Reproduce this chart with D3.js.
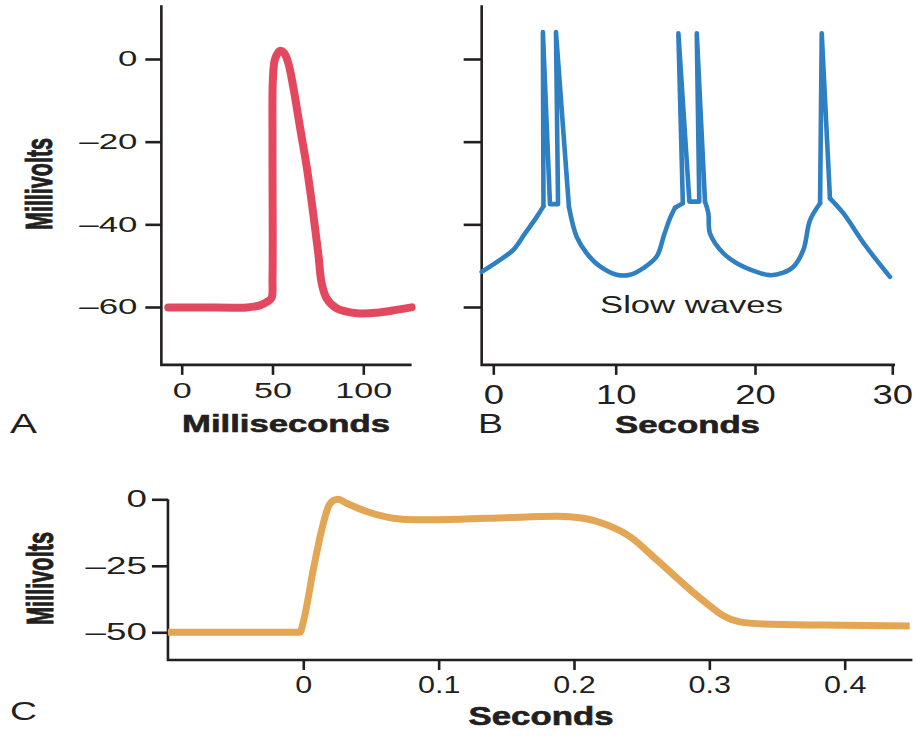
<!DOCTYPE html>
<html>
<head>
<meta charset="utf-8">
<script src="https://cdn.jsdelivr.net/npm/d3@7"></script>
<style>
  body { margin: 0; background: #fff; }
  svg { display: block; }
  text { font-family: "Liberation Sans", Arial, sans-serif; fill: #231f20; }
</style>
</head>
<body>
<div id="chart"></div>
<script>
// ---- panel A: nerve action potential (ms, mV)
const msTicks = [0, 50, 100];
const mvTicksA = [0, -20, -40, -60];
const redMs = [-7.4, 10, 35.8, 43.1, 47.5, 49.5, 50, 50, 50.2, 51.4, 54.1, 56.3, 58.7, 61.4, 65.1, 68.8, 72.4, 75.2, 77.1, 79.8, 85.3, 96.3, 107.3, 118.3, 126.6];
const redMv = [-60.1, -60.1, -60.1, -59.6, -58.6, -57.8, -53, -20, -5, 0, 2.0, 1.5, -1.0, -6.7, -16.4, -26.0, -37.3, -47.0, -54.3, -57.9, -60.3, -61.5, -61.4, -60.7, -60.1];

// ---- panel B: smooth muscle slow waves with spikes (s, mV)
const secTicksB = [0, 10, 20, 30];
const blueSec = [-0.95, 0.55, 1.63, 2.59, 3.55, 4.1, 4.05, 4.63, 5.29, 5.12, 6.18, 6.81, 7.63, 8.72, 10.07, 11.03, 11.98, 12.94, 13.47, 13.9, 14.26, 14.82, 14.5, 15.29, 16.0, 15.82, 16.41, 16.65, 16.77, 17.73, 18.69, 20.12, 21.09, 22.06, 22.79, 23.52, 24.01, 24.74, 24.86, 25.46, 26.43, 28.01, 29.83];
const blueMv = [-51.5, -48.6, -46.2, -42.2, -38.2, -35.6, 6.5, -35.1, -35.1, 6.5, -35.8, -43.0, -47.0, -50.2, -52.2, -52.2, -50.6, -47.8, -42.6, -38.5, -36.0, -34.9, 6.2, -34.5, -34.5, 6.2, -34.5, -37.3, -42.2, -47.0, -49.4, -51.5, -52.3, -51.7, -50.3, -46.2, -39.0, -34.9, 6.2, -33.7, -37.3, -45.0, -52.7];

// ---- panel C: plateau action potential (s, mV)
const secTicksC = [0, 0.1, 0.2, 0.3, 0.4];
const mvTicksC = [0, -25, -50];
const orangeSec = [-0.1, -0.0025, 0.0005, 0.0074, 0.0136, 0.0185, 0.0221, 0.0258, 0.032, 0.0468, 0.0664, 0.0837, 0.1157, 0.1503, 0.1872, 0.2069, 0.2241, 0.2413, 0.261, 0.2856, 0.3004, 0.3103, 0.3225, 0.3398, 0.3841, 0.448];
const orangeMv = [-50, -50, -45, -26.4, -11.5, -2.8, -0.5, 0, -1.5, -4.6, -7.1, -7.7, -7.5, -6.9, -6.4, -7.1, -9.6, -14.0, -22.7, -33.9, -40.1, -43.8, -46.1, -46.9, -47.3, -47.6];

const width = 917, height = 736;
const ink = '#231f20';

const svg = d3.select('#chart')
    .append('svg')
    .attr('width', width)
    .attr('height', height);

// squeeze / stretch text horizontally around its anchor
function stretch(sel, s) {
    sel.each(function () {
        const t = d3.select(this);
        const x = +t.attr('x') || 0;
        const y = +t.attr('y') || 0;
        t.attr('x', 0).attr('y', 0)
            .attr('transform', `translate(${x},${y}) scale(${s},1)`);
    });
}

function label(txt, x, y, opts) {
    const t = svg.append('text')
        .attr('font-size', opts.size + 'px')
        .attr('font-weight', opts.bold ? 700 : 400)
        .attr('text-anchor', opts.anchor || 'middle')
        .text(txt);
    if (opts.bold) {
        // the source uses a heavier face than Liberation Sans Bold
        t.attr('stroke', ink).attr('stroke-width', 0.6);
    }
    const natural = t.node().getComputedTextLength();
    const s = opts.width / natural;
    const rot = opts.rotate ? ' rotate(-90)' : '';
    t.attr('transform', `translate(${x},${y}) scale(${opts.rotate ? opts.thick : s},1)${rot}`);
    if (opts.rotate) {
        t.attr('textLength', opts.width).attr('lengthAdjust', 'spacingAndGlyphs');
    }
    return t;
}

function frame(x, y, x0, x1, y0, y1) {
    svg.append('path')
        .attr('d', `M${x(x0)},${y(y1)}V${y(y0)}H${x(x1)}`)
        .attr('fill', 'none')
        .attr('stroke', ink)
        .attr('stroke-width', 2.6);
}

function styleAxis(g, fontSize, s) {
    g.select('.domain').remove();
    g.selectAll('.tick line').attr('stroke', ink).attr('stroke-width', 2.6);
    g.selectAll('.tick text')
        .attr('fill', ink)
        .attr('font-size', fontSize + 'px')
        .attr('font-family', '"Liberation Sans", Arial, sans-serif')
        .call(stretch, s);
}

const fmtMinus = d => d < 0 ? '\u2013' + Math.abs(d) : String(d);

// ================= Panel A
const xA = d3.scaleLinear().domain([0, 100]).range([181.7, 363.3]);
const yA = d3.scaleLinear().domain([0, -60]).range([59, 307]);

frame(xA, yA, -11.2, 126.6, -74, 13);

svg.append('g')
    .attr('transform', `translate(${xA(-11.2)},0)`)
    .call(d3.axisLeft(yA).tickValues(mvTicksA).tickSize(16).tickPadding(8).tickFormat(fmtMinus))
    .call(styleAxis, 21.5, 1.62);

svg.append('g')
    .attr('transform', `translate(0,${yA(-74)})`)
    .call(d3.axisBottom(xA).tickValues(msTicks).tickSize(10).tickPadding(8))
    .call(styleAxis, 22, 1.55);

const lineA = d3.line()
    .x((d, i) => xA(redMs[i]))
    .y(d => yA(d))
    .curve(d3.curveCatmullRom.alpha(0.5));

svg.append('path')
    .datum(redMv)
    .attr('d', lineA)
    .attr('fill', 'none')
    .attr('stroke', '#e4485f')
    .attr('stroke-width', 8)
    .attr('stroke-linecap', 'round')
    .attr('stroke-linejoin', 'round');

label('Millivolts', 52, 184, {size: 21.5, bold: true, rotate: true, width: 92, thick: 1.69});
label('Milliseconds', 286, 432, {size: 24, bold: true, width: 208});
label('A', 10, 433, {size: 28, anchor: 'start', width: 27});

// ================= Panel B
// tick spacing in the source figure is uneven, so use a piecewise scale
const xB = d3.scaleLinear().domain(secTicksB).range([493.3, 615.7, 755, 892.3]);
const yB = d3.scaleLinear().domain([0, -60]).range([59, 307]);

frame(xB, yB, -0.95, 30.2, -74, 13);

svg.append('g')
    .attr('transform', `translate(${xB(-0.95)},0)`)
    .call(d3.axisLeft(yB).tickValues(mvTicksA).tickSize(18).tickFormat(''))
    .call(styleAxis, 20, 1);

svg.append('g')
    .attr('transform', `translate(0,${yB(-74)})`)
    .call(d3.axisBottom(xB).tickValues(secTicksB).tickSize(10).tickPadding(10))
    .call(styleAxis, 27, 1.35);

// spike strokes are straight, the slow-wave parts are smooth:
// split the trace into runs and draw each with its own curve
const bluePts = blueSec.map((s, i) => [s, blueMv[i]]);
const sharpSeg = (a, b) => a[1] > 0 || b[1] > 0 || (a[1] > -36.5 && b[1] > -36.5);
const blueRuns = [];
let run = [bluePts[0]];
let runSharp = sharpSeg(bluePts[0], bluePts[1]);
for (let i = 1; i < bluePts.length; i++) {
    const sh = sharpSeg(bluePts[i - 1], bluePts[i]);
    if (sh !== runSharp) {
        blueRuns.push({sharp: runSharp, pts: run});
        run = [bluePts[i - 1]];
        runSharp = sh;
    }
    run.push(bluePts[i]);
}
blueRuns.push({sharp: runSharp, pts: run});

const lineBSmooth = d3.line()
    .x(d => xB(d[0]))
    .y(d => yB(d[1]))
    .curve(d3.curveCatmullRom.alpha(0.5));
const lineBSharp = d3.line()
    .x(d => xB(d[0]))
    .y(d => yB(d[1]));

svg.append('g')
    .selectAll('path')
    .data(blueRuns)
    .join('path')
    .attr('d', d => (d.sharp ? lineBSharp : lineBSmooth)(d.pts))
    .attr('fill', 'none')
    .attr('stroke', '#2f80c2')
    .attr('stroke-width', 4.6)
    .attr('stroke-linecap', 'round')
    .attr('stroke-linejoin', 'round');

label('Slow waves', 691.5, 313, {size: 24, width: 183});
label('Seconds', 687.5, 433, {size: 23, bold: true, width: 145});
label('B', 478, 433, {size: 28, anchor: 'start', width: 25});

// ================= Panel C
const xC = d3.scaleLinear().domain([0, 0.4]).range([303.3, 844.7]);
const yC = d3.scaleLinear().domain([0, -50]).range([499.3, 632.3]);

frame(xC, yC, -0.1, 0.45, -60.4, 0);

svg.append('g')
    .attr('transform', `translate(${xC(-0.1)},0)`)
    .call(d3.axisLeft(yC).tickValues(mvTicksC).tickSize(16).tickPadding(5).tickFormat(fmtMinus))
    .call(styleAxis, 23, 1.6);

svg.append('g')
    .attr('transform', `translate(0,${yC(-60.4)})`)
    .call(d3.axisBottom(xC).tickValues(secTicksC).tickSize(10).tickPadding(6).tickFormat(d => d === 0 ? '0' : d3.format('.1f')(d)))
    .call(styleAxis, 23.5, 1.3);

const lineC = d3.line()
    .x((d, i) => xC(orangeSec[i]))
    .y(d => yC(d))
    .curve(d3.curveMonotoneX);

svg.append('path')
    .datum(orangeMv)
    .attr('d', lineC)
    .attr('fill', 'none')
    .attr('stroke', '#e2a654')
    .attr('stroke-width', 7)
    .attr('stroke-linecap', 'butt')
    .attr('stroke-linejoin', 'round');

label('Millivolts', 53, 578.5, {size: 21.5, bold: true, rotate: true, width: 93, thick: 1.69});
label('Seconds', 541, 725, {size: 25, bold: true, width: 145});
label('C', 10, 720, {size: 26, anchor: 'start', width: 27});
</script>
</body>
</html>
